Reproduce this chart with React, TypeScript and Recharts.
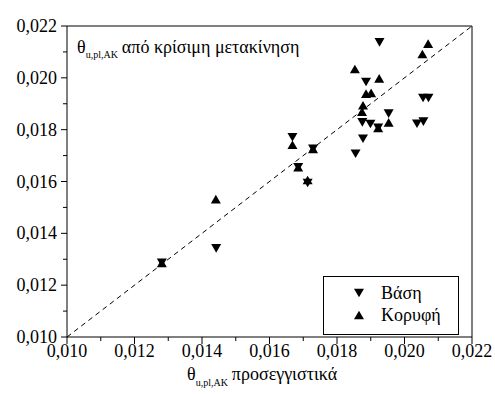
import { ScatterChart, Scatter, XAxis, YAxis, ReferenceLine, Legend } from "recharts";

// Βάση (▼)
const baseX = [0.01926, 0.01886, 0.02055, 0.02071, 0.01875, 0.01899, 0.01922, 0.01953, 0.02037, 0.02056, 0.01877, 0.01855, 0.01668, 0.01729, 0.01685, 0.01713, 0.01442, 0.01281];
const baseY = [0.02137, 0.01984, 0.01922, 0.01922, 0.01828, 0.01822, 0.01807, 0.01862, 0.01823, 0.01831, 0.01765, 0.01707, 0.01771, 0.01726, 0.01655, 0.01594, 0.01342, 0.01286];

// Κορυφή (▲)
const topX = [0.0207, 0.02053, 0.01853, 0.01925, 0.01886, 0.01901, 0.01877, 0.01874, 0.01922, 0.01953, 0.01668, 0.01729, 0.01685, 0.01713, 0.01441, 0.01281];
const topY = [0.02132, 0.02092, 0.02034, 0.01998, 0.01939, 0.01942, 0.01894, 0.01869, 0.01807, 0.01828, 0.01742, 0.01726, 0.01655, 0.01606, 0.01532, 0.01286];

const axisTicks = [0.01, 0.011, 0.012, 0.013, 0.014, 0.015, 0.016, 0.017, 0.018, 0.019, 0.02, 0.021, 0.022];

const FONT = "Liberation Serif, Tinos, DejaVu Serif, serif";

const baseData = baseX.map((x, i) => ({ x, y: baseY[i] }));
const topData = topX.map((x, i) => ({ x, y: topY[i] }));

function fmt(v: number) {
  return v.toFixed(3).replace(".", ",");
}

function isMajor(v: number) {
  return Math.round(v * 1000) % 2 === 0;
}

function DownTri({ cx, cy }: { cx?: number; cy?: number }) {
  if (cx == null || cy == null) return null;
  return <path d={`M${cx - 5},${cy - 4.3}L${cx + 5},${cy - 4.3}L${cx},${cy + 4.3}Z`} fill="#000" />;
}

function UpTri({ cx, cy }: { cx?: number; cy?: number }) {
  if (cx == null || cy == null) return null;
  return <path d={`M${cx - 5},${cy + 4.3}L${cx + 5},${cy + 4.3}L${cx},${cy - 4.3}Z`} fill="#000" />;
}

function XTick({ x, y, payload }: any) {
  const major = isMajor(payload.value);
  return (
    <g>
      <line x1={x} x2={x} y1={y} y2={y + (major ? 7 : 4)} stroke="#000" />
      {major && (
        <text x={x} y={y + 20} textAnchor="middle" fontFamily={FONT} fontSize={18} fill="#000">
          {fmt(payload.value)}
        </text>
      )}
    </g>
  );
}

function YTick({ x, y, payload }: any) {
  const major = isMajor(payload.value);
  return (
    <g>
      <line x1={x} x2={x - (major ? 6 : 4)} y1={y} y2={y} stroke="#000" />
      {major && (
        <text x={x - 10} y={y + 6} textAnchor="end" fontFamily={FONT} fontSize={18} fill="#000">
          {fmt(payload.value)}
        </text>
      )}
    </g>
  );
}

function LegendBox() {
  const row = (up: boolean, label: string) => (
    <div style={{ display: "flex", alignItems: "center", height: 22 }}>
      <svg width={30} height={14} style={{ marginLeft: 25 }}>
        {up ? <UpTri cx={10} cy={7} /> : <DownTri cx={10} cy={7} />}
      </svg>
      <span style={{ fontFamily: FONT, fontSize: 18, marginLeft: 2 }}>{label}</span>
    </div>
  );
  return (
    <div style={{ border: "1px solid #000", width: 134, height: 52, boxSizing: "content-box", paddingTop: 5, background: "#fff" }}>
      {row(false, "Βάση")}
      {row(true, "Κορυφή")}
    </div>
  );
}

export default function App() {
  return (
    <div style={{ position: "absolute", left: 0, top: 0, width: 495, height: 394, background: "#fff" }}>
      <ScatterChart width={495} height={394} margin={{ top: 26, right: 23, bottom: 0, left: 0 }}>
        <XAxis
          type="number"
          dataKey="x"
          domain={[0.01, 0.022]}
          ticks={axisTicks}
          interval={0}
          height={57}
          tickSize={0}
          tickMargin={0}
          tickLine={false}
          tick={<XTick />}
          stroke="#000"
          allowDataOverflow
        />
        <YAxis
          type="number"
          dataKey="y"
          domain={[0.01, 0.022]}
          ticks={axisTicks}
          interval={0}
          width={67}
          tickSize={0}
          tickMargin={0}
          tickLine={false}
          tick={<YTick />}
          stroke="#000"
          allowDataOverflow
        />
        <ReferenceLine y={0.022} stroke="#000" />
        <ReferenceLine x={0.022} stroke="#000" />
        <ReferenceLine
          segment={[{ x: 0.01, y: 0.01 }, { x: 0.022, y: 0.022 }]}
          stroke="#000"
          strokeDasharray="5 4"
        />
        <Scatter name="Βάση" data={baseData} shape={<DownTri />} isAnimationActive={false} />
        <Scatter name="Κορυφή" data={topData} shape={<UpTri />} isAnimationActive={false} />
        <Legend
          layout="horizontal"
          verticalAlign="middle"
          align="center"
          content={<LegendBox />}
          wrapperStyle={{ left: 323, top: 276, width: 136, height: 57 }}
        />
      </ScatterChart>
      <svg width={495} height={394} style={{ position: "absolute", left: 0, top: 0, pointerEvents: "none" }}>
        <text x={77} y={53} fontFamily={FONT} fontSize={18} fill="#000">
          θ<tspan fontSize={10} dy={5}>u,pl,AK</tspan>
          <tspan dy={-5} dx={4}>από κρίσιμη μετακίνηση</tspan>
        </text>
        <text x={187} y={380} fontFamily={FONT} fontSize={18} fill="#000">
          θ<tspan fontSize={10} dy={6}>u,pl,AK</tspan>
          <tspan dy={-6} dx={4}>προσεγγιστικά</tspan>
        </text>
      </svg>
    </div>
  );
}
